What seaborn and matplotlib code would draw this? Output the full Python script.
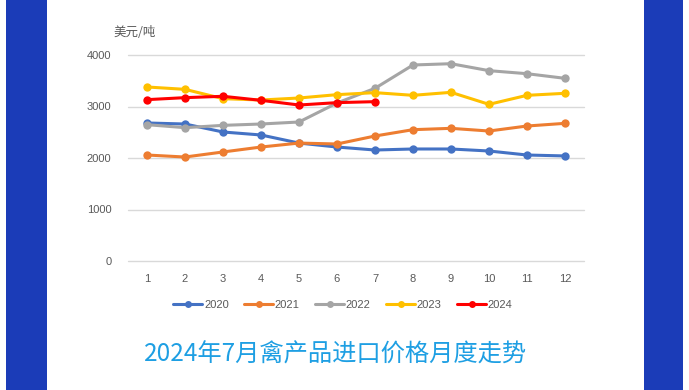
import matplotlib
matplotlib.use("Agg")
import matplotlib.pyplot as plt
import seaborn as sns
import pandas as pd
from matplotlib.patches import Rectangle
from matplotlib.lines import Line2D

months = list(range(1, 13))
v2020 = [2680, 2660, 2505, 2447, 2290, 2213, 2155, 2175, 2175, 2136, 2058, 2040]
v2021 = [2058, 2019, 2117, 2213, 2290, 2272, 2427, 2550, 2576, 2524, 2621, 2673]
v2022 = [2647, 2589, 2634, 2660, 2699, 3068, 3353, 3806, 3831, 3696, 3637, 3547]
v2023 = [3379, 3333, 3152, 3126, 3165, 3230, 3269, 3217, 3275, 3042, 3217, 3256]
v2024 = [3133, 3172, 3198, 3120, 3029, 3075, 3094]
series_names = ["2020", "2021", "2022", "2023", "2024"]
series_vals = [v2020, v2021, v2022, v2023, v2024]
colors = ["#4472C4", "#ED7D31", "#A5A5A5", "#FFC000", "#FF0000"]
yticks = [0, 1000, 2000, 3000, 4000]
unit_label = "美元/吨"
title = "2024年7月禽产品进口价格月度走势"

rows = []
for name, vals in zip(series_names, series_vals):
    for m, v in zip(months, vals):
        rows.append({"月": m, "价格": v, "年份": name})
df = pd.DataFrame(rows)

sns.set_theme(style="white")
plt.rcParams['font.family'] = ['Liberation Sans', 'Noto Sans CJK SC', 'DejaVu Sans']

W, H = 689, 390
fig = plt.figure(figsize=(W / 100, H / 100), dpi=100)
fig.patch.set_facecolor("white")

# blue side borders
fig.add_artist(Rectangle((6 / W, 0), 41 / W, 1, transform=fig.transFigure,
                         facecolor="#1B3CB8", edgecolor="none", zorder=0))
fig.add_artist(Rectangle((644 / W, 0), 39 / W, 1, transform=fig.transFigure,
                         facecolor="#1B3CB8", edgecolor="none", zorder=0))

ax = fig.add_axes([128 / W, 1 - 261 / H, (584 - 128) / W, (261 - 55) / H])
ax.set_facecolor("white")

sns.lineplot(data=df, x="月", y="价格", hue="年份", hue_order=series_names,
             palette=colors, marker="o", markersize=6, markeredgewidth=0,
             linewidth=2.2, ax=ax, legend=False, zorder=3)

ax.set_xlim(0.5, 12.5)
ax.set_ylim(0, 4000)
ax.set_xticks(months)
ax.set_xticklabels([str(m) for m in months])
ax.set_yticks(yticks)
ax.set_yticklabels([str(t) for t in yticks])
ax.yaxis.grid(True, color="#D9D9D9", linewidth=1)
for gl in ax.get_ygridlines():
    gl.set_clip_on(False)
ax.xaxis.grid(False)
for s in ax.spines.values():
    s.set_visible(False)
ax.tick_params(axis="both", length=0, labelsize=8, colors="#595959")
ax.tick_params(axis="x", pad=9)
ax.tick_params(axis="y", pad=12)
ax.set_xlabel("")
ax.set_ylabel("")

fig.text(113 / W, 1 - 33 / H, unit_label, fontsize=9, color="#595959",
         family=['Noto Sans CJK SC', 'DejaVu Sans'], ha="left", va="center")

handles = [Line2D([0], [0], color=c, lw=2.2, marker="o", markersize=5,
                  markeredgewidth=0) for c in colors]
fig.legend(handles, series_names, loc="center", bbox_to_anchor=(343 / W, 1 - 305 / H),
           ncol=5, frameon=False, fontsize=8, handlelength=2.6, handletextpad=0.15,
           columnspacing=1.4, labelcolor="#595959")

fig.text(336 / W, 1 - 355 / H, title, fontsize=17.5, color="#1E9FE3",
         family=['Noto Sans CJK SC', 'DejaVu Sans'], ha="center", va="center")

fig.savefig("out.png", dpi=100)
